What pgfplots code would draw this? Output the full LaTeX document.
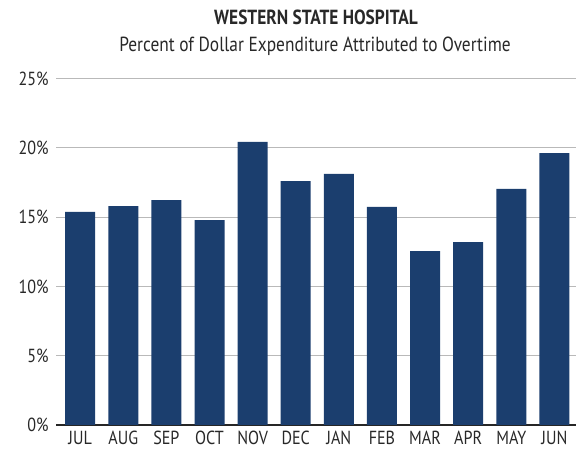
\documentclass[border=0pt]{standalone}
\usepackage{fontspec}
\setmainfont[FakeStretch=0.85]{PT Sans}
\usepackage{pgfplots}
\pgfplotsset{compat=1.18}
\definecolor{barblue}{RGB}{27,62,110}
\definecolor{gridgray}{RGB}{185,185,185}
\definecolor{txt}{RGB}{40,40,40}
\begin{document}
\begin{tikzpicture}[x=1bp,y=1bp]
\begin{axis}[
  at={(56bp,26bp)}, anchor=south west,
  scale only axis,
  width=520bp, height=346.5bp,
  xmin=-0.56, xmax=11.5,
  ymin=0, ymax=25,
  axis y line=left,
  y axis line style={draw=none},
  axis x line*=bottom,
  x axis line style={draw=black!85, line width=1.8pt, -},
  xtick={0,...,11},
  xticklabels={JUL,AUG,SEP,OCT,NOV,DEC,JAN,FEB,MAR,APR,MAY,JUN},
  major tick length=0pt,
  ytick={0,5,10,15,20,25},
  yticklabel={\pgfmathprintnumber{\tick}\%},
  /pgf/number format/assume math mode=true,
  ymajorgrids,
  grid style={gridgray, line width=0.9pt},
  tick label style={font=\fontsize{19}{19}\selectfont, text=txt},
  xticklabel style={yshift=-3bp},
  yticklabel style={xshift=-4bp},
  ybar, bar width=30bp,
]
\addplot[fill=barblue, draw=none] coordinates {
(0,15.37) (1,15.8) (2,16.23) (3,14.79) (4,20.42) (5,17.6)
(6,18.11) (7,15.73) (8,12.55) (9,13.2) (10,17.03) (11,19.62)
};
\end{axis}
\node[anchor=base, font=\fontsize{20.5}{20.5}\selectfont\bfseries, text=txt] at (316bp,426bp) {WESTERN STATE HOSPITAL};
\node[anchor=base, font=\fontsize{20.5}{20.5}\selectfont, text=txt] at (315bp,399bp) {Percent of Dollar Expenditure Attributed to Overtime};
\pgfresetboundingbox
\path[use as bounding box] (0,0) rectangle (576bp,451bp);
\end{tikzpicture}
\end{document}
